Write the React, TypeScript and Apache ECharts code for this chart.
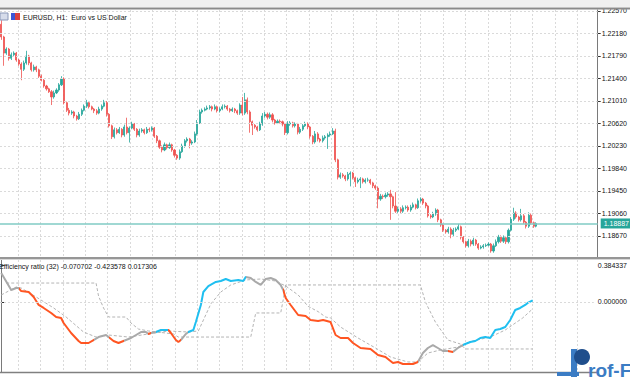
import React, { useEffect, useRef } from "react";
import * as echarts from "echarts";

// ---------- data ----------
const chartTitle = "EURUSD, H1:  Euro vs US Dollar";
const indicatorTitle = "Efficiency ratio (32) -0.070702 -0.423578 0.017306";

const firstOpen = 1.2234;
const closes = [
  1.2212, 1.2184, 1.2191, 1.2175, 1.2181, 1.2184, 1.2172, 1.2165, 1.2156, 1.2167,
  1.2179, 1.2167, 1.2155, 1.216, 1.2155, 1.2144, 1.2137, 1.2127, 1.2122, 1.2117,
  1.2108, 1.2115, 1.212, 1.2129, 1.2139, 1.2098, 1.2085, 1.208, 1.2082, 1.2075,
  1.207, 1.2078, 1.2085, 1.2092, 1.2098, 1.2091, 1.2087, 1.2084, 1.208, 1.2087,
  1.2092, 1.2098, 1.2078, 1.2058, 1.2039, 1.2051, 1.2046, 1.2052, 1.2042, 1.2056,
  1.2046, 1.2054, 1.2061, 1.2052, 1.2042, 1.2049, 1.2051, 1.2046, 1.2052, 1.2051,
  1.2054, 1.204, 1.2032, 1.2021, 1.2016, 1.2025, 1.202, 1.2025, 1.2016, 1.2007,
  1.2002, 1.2013, 1.2023, 1.2032, 1.2035, 1.2028, 1.203, 1.2044, 1.2063, 1.2082,
  1.2085, 1.2087, 1.2089, 1.2091, 1.2087, 1.2091, 1.2084, 1.2087, 1.2091, 1.2092,
  1.2087, 1.2084, 1.2087, 1.2084, 1.208, 1.2094, 1.208, 1.2103, 1.2082, 1.2065,
  1.2059, 1.2056, 1.2051, 1.2061, 1.2075, 1.2078, 1.2073, 1.2077, 1.2068, 1.2063,
  1.2066, 1.2065, 1.2061, 1.2046, 1.2061, 1.2063, 1.2058, 1.2061, 1.2047, 1.2052,
  1.2058, 1.2061, 1.2056, 1.204, 1.203, 1.2044, 1.2035, 1.2032, 1.2037, 1.2039,
  1.2042, 1.2044, 1.2049, 1.1999, 1.1969, 1.1973, 1.1971, 1.1966, 1.1974, 1.1976,
  1.1968, 1.1961, 1.1964, 1.1966, 1.1961, 1.1964, 1.1964, 1.1959, 1.1954, 1.195,
  1.1931, 1.1936, 1.1935, 1.1938, 1.194, 1.1935, 1.1919, 1.191, 1.1914, 1.191,
  1.1916, 1.1917, 1.1912, 1.1917, 1.1921, 1.1916, 1.1928, 1.1931, 1.1924, 1.1919,
  1.1902, 1.19, 1.1905, 1.1912, 1.1895, 1.1886, 1.1877, 1.1874, 1.1879, 1.187,
  1.1877, 1.1879, 1.1883, 1.1865, 1.1857, 1.185, 1.1858, 1.1853, 1.186, 1.1853,
  1.1846, 1.1848, 1.185, 1.1851, 1.1853, 1.1841, 1.185, 1.1857, 1.1865, 1.1858,
  1.1864, 1.1857, 1.1877, 1.1896, 1.1907, 1.19, 1.1895, 1.1902, 1.1891, 1.1884,
  1.1903, 1.189, 1.1884, 1.18887,
];
// wick lengths above / below the body, in pips
const wickUp = [
  7, 2, 3, 2, 4, 3, 2, 2, 3, 4, 9, 2, 2, 4, 2, 2, 3, 2, 2, 2,
  3, 4, 3, 3, 5, 3, 2, 4, 3, 2, 2, 4, 3, 3, 5, 3, 2, 2, 3, 4,
  3, 5, 3, 2, 2, 4, 3, 4, 2, 4, 16, 3, 4, 2, 2, 4, 3, 2, 4, 3,
  3, 2, 2, 2, 3, 4, 2, 4, 2, 2, 2, 4, 4, 3, 3, 2, 3, 4, 5, 4,
  3, 3, 4, 3, 2, 4, 2, 3, 4, 3, 2, 2, 3, 2, 2, 3, 14, 12, 4, 3,
  2, 2, 2, 4, 5, 4, 3, 4, 3, 2, 3, 3, 2, 2, 5, 3, 2, 3, 2, 4,
  3, 4, 3, 2, 2, 5, 3, 2, 4, 3, 3, 4, 5, 4, 2, 4, 3, 2, 4, 3,
  2, 2, 4, 3, 2, 3, 4, 2, 2, 2, 3, 4, 3, 4, 3, 7, 2, 24, 4, 3,
  4, 3, 3, 4, 4, 2, 4, 3, 2, 2, 2, 3, 4, 3, 2, 2, 2, 2, 4, 3,
  4, 3, 5, 2, 2, 2, 4, 3, 4, 2, 2, 3, 3, 3, 3, 2, 4, 4, 4, 3,
  4, 3, 3, 4, 9, 3, 2, 12, 3, 2, 5, 3, 2, 2,
];
const wickDn = [
  5, 22, 3, 4, 3, 2, 3, 3, 19, 3, 3, 4, 3, 3, 4, 3, 2, 3, 3, 2,
  14, 3, 2, 3, 2, 3, 3, 4, 3, 4, 3, 2, 3, 2, 3, 3, 2, 4, 3, 2,
  3, 2, 4, 3, 4, 3, 3, 2, 4, 3, 3, 17, 2, 3, 4, 3, 3, 3, 2, 4,
  3, 3, 4, 3, 4, 2, 3, 2, 3, 4, 3, 3, 2, 3, 3, 9, 3, 2, 3, 2,
  3, 2, 2, 3, 4, 2, 3, 3, 2, 3, 3, 3, 2, 4, 3, 3, 4, 3, 4, 19,
  17, 3, 3, 2, 3, 3, 4, 3, 4, 3, 2, 3, 4, 4, 3, 3, 3, 3, 4, 3,
  3, 2, 4, 4, 4, 3, 4, 3, 3, 3, 21, 3, 2, 4, 4, 3, 3, 4, 3, 21,
  3, 9, 3, 14, 3, 3, 3, 3, 4, 3, 16, 3, 4, 3, 3, 40, 4, 3, 3, 4,
  3, 3, 3, 3, 2, 3, 2, 3, 3, 4, 3, 3, 2, 3, 4, 3, 3, 3, 3, 7,
  3, 3, 2, 4, 3, 3, 3, 4, 3, 3, 3, 2, 3, 2, 2, 3, 3, 2, 3, 3,
  3, 4, 3, 2, 3, 3, 3, 3, 3, 4, 3, 3, 3, 2,
];
const priceTicks = [
  1.2257, 1.2218, 1.2179, 1.214, 1.2101, 1.2062, 1.2023, 1.1984, 1.1945, 1.1906, 1.1867,
];
const currentPrice = 1.18887;

// indicator pane: [bar index, value]
const erPoints = [
  [0, 0.301], [4, 0.125], [6, 0.145], [7, 0.145], [8, 0.114], [11, 0.104], [13, 0.052],
  [15, -0.031], [17, -0.062], [20, -0.114], [22, -0.156], [24, -0.166], [25, -0.218],
  [28, -0.322], [31, -0.405], [32, -0.426], [35, -0.426], [37, -0.395], [39, -0.364],
  [42, -0.343], [43, -0.364], [45, -0.405], [47, -0.426], [49, -0.405], [52, -0.374],
  [54, -0.343], [56, -0.312], [58, -0.312], [59, -0.332], [60, -0.322], [62, -0.312],
  [64, -0.291], [67, -0.291], [68, -0.322], [70, -0.395], [71, -0.416], [72, -0.395],
  [74, -0.332], [75, -0.312], [77, -0.291], [78, -0.208], [80, -0.031], [81, 0.104],
  [83, 0.166], [86, 0.208], [88, 0.218], [90, 0.239], [92, 0.218], [95, 0.229],
  [97, 0.218], [98, 0.26], [100, 0.249], [102, 0.208], [104, 0.177], [106, 0.239],
  [108, 0.249], [110, 0.229], [112, 0.177], [113, 0.125], [114, 0.042], [116, -0.031],
  [119, -0.135], [122, -0.145], [124, -0.187], [127, -0.197], [129, -0.187], [132, -0.208],
  [134, -0.343], [136, -0.374], [139, -0.374], [141, -0.426], [144, -0.478], [148, -0.488],
  [151, -0.551], [154, -0.571], [157, -0.634], [159, -0.623], [161, -0.644], [163, -0.644],
  [165, -0.644], [167, -0.623], [169, -0.53], [171, -0.478], [173, -0.447], [175, -0.478],
  [177, -0.509], [179, -0.509], [181, -0.52], [183, -0.478], [185, -0.447], [188, -0.416],
  [190, -0.405], [192, -0.374], [194, -0.364], [196, -0.374], [198, -0.291], [200, -0.281],
  [202, -0.26], [204, -0.187], [206, -0.083], [208, -0.062], [210, -0.031], [211, -0.01],
  [213, 0.017],
];
// colour of the efficiency-ratio line by bar range: [from, to, colour]
const erColorRanges = [
  [0, 7, "#a9a9a9"], [7, 37, "#ff5522"], [37, 43, "#a9a9a9"], [43, 49, "#ff5522"],
  [49, 59, "#a9a9a9"], [59, 60, "#ff5522"], [60, 62, "#a9a9a9"], [62, 67, "#1fbff0"],
  [67, 72, "#ff5522"], [72, 75, "#a9a9a9"], [75, 98, "#1fbff0"], [98, 113, "#a9a9a9"],
  [113, 167, "#ff5522"], [167, 179, "#a9a9a9"], [179, 181, "#ff5522"], [181, 185, "#a9a9a9"],
  [185, 214, "#1fbff0"],
];
const signalPoints = [
  [0, 0.073], [6, 0.156], [8, 0.145], [14, 0.052], [21, -0.062], [26, -0.156], [33, -0.312],
  [38, -0.364], [43, -0.343], [51, -0.364], [59, -0.332], [67, -0.301], [75, -0.312],
  [79, -0.301], [84, -0.02], [88, 0.104], [92, 0.177], [98, 0.229], [104, 0.239],
  [110, 0.218], [114, 0.166], [119, 0.073], [123, -0.045], [127, -0.1], [130, -0.156],
  [132, -0.166], [136, -0.26], [143, -0.374], [150, -0.478], [156, -0.571], [163, -0.623],
  [167, -0.623], [171, -0.53], [176, -0.499], [183, -0.468], [189, -0.405], [196, -0.364],
  [202, -0.291], [209, -0.166], [213, -0.071],
];
const levelPoints = [
  [2, 0.197], [38, 0.197], [39, 0.062], [41, -0.062], [43, -0.156], [50, -0.156],
  [52, -0.218], [55, -0.281], [59, -0.301], [69, -0.332], [71, -0.364], [100, -0.364],
  [101, -0.239], [102, -0.114], [112, -0.114], [113, 0.021], [114, 0.177], [168, 0.177],
  [170, 0.0], [174, -0.208], [179, -0.395], [184, -0.436], [186, -0.488], [213, -0.488],
];
const indicatorTicks = [0.384337, 0];

// ---------- layout ----------
const SLOTS = 238;
const W = 630;
const H = 380;
const PLOT_RIGHT = 598;
const MAIN_TOP = 10;
const MAIN_BOTTOM = 257;
const IND_TOP = 260;
const IND_BOTTOM = 372;
const FONT = "Liberation Sans";

export default function App() {
  const ref = useRef<HTMLDivElement>(null);

  useEffect(() => {
    if (!ref.current) return;
    const chart = echarts.init(ref.current, undefined, { renderer: "svg" });

    const categories = Array.from({ length: SLOTS }, (_, i) => String(i));
    const candles = closes.map((c, i) => {
      const o = i === 0 ? firstOpen : closes[i - 1];
      const lo = Math.min(o, c) - wickDn[i] * 0.0001;
      const hi = Math.max(o, c) + wickUp[i] * 0.0001;
      return [o, c, lo, hi];
    });

    const gridLine = { color: "#dadada", width: 1, type: [2, 2] as any };

    const vGrid: any[] = [];
    for (let k = 0; k < 26; k++) {
      const x = Math.round(18 + 22.36 * k) + 0.5;
      vGrid.push({
        type: "line",
        z: 0,
        silent: true,
        shape: { x1: x, y1: MAIN_TOP, x2: x, y2: MAIN_BOTTOM },
        style: { stroke: "#dadada", lineWidth: 1, lineDash: [2, 2] },
      });
      vGrid.push({
        type: "line",
        z: 0,
        silent: true,
        shape: { x1: x, y1: IND_TOP, x2: x, y2: IND_BOTTOM },
        style: { stroke: "#dadada", lineWidth: 1, lineDash: [2, 2] },
      });
    }

    const series: any[] = [
      {
        name: "grid",
        type: "line",
        xAxisIndex: 0,
        yAxisIndex: 0,
        data: [],
        silent: true,
        markLine: {
          silent: true,
          precision: 6,
          symbol: ["none", "none"],
          label: { show: false },
          lineStyle: gridLine,
          data: priceTicks.map((v) => ({ yAxis: v })),
        },
      },
      {
        name: "EURUSD",
        type: "candlestick",
        xAxisIndex: 0,
        yAxisIndex: 0,
        data: candles,
        barWidth: 1.6,
        itemStyle: {
          color: "#26a69a",
          color0: "#ef5350",
          borderColor: "#26a69a",
          borderColor0: "#ef5350",
          borderWidth: 0.8,
        },
      },
      {
        name: "price",
        type: "line",
        xAxisIndex: 0,
        yAxisIndex: 0,
        data: [],
        silent: true,
        z: 3,
        markLine: {
          silent: true,
          precision: 6,
          symbol: ["none", "none"],
          lineStyle: { color: "#80cbc4", width: 1.5, type: "solid" },
          label: {
            show: true,
            position: "end",
            formatter: () => currentPrice.toFixed(5),
            color: "#ffffff",
            backgroundColor: "#26a69a",
            fontSize: 7,
            fontFamily: FONT,
            padding: [2, 3, 1, 3],
            distance: 3,
          },
          data: [{ yAxis: currentPrice }],
        },
      },
      {
        name: "zero",
        type: "line",
        xAxisIndex: 1,
        yAxisIndex: 1,
        data: [],
        silent: true,
        markLine: {
          silent: true,
          precision: 6,
          symbol: ["none", "none"],
          label: { show: false },
          lineStyle: gridLine,
          data: [{ yAxis: 0 }],
        },
      },
      {
        name: "level",
        type: "line",
        xAxisIndex: 1,
        yAxisIndex: 1,
        data: levelPoints,
        showSymbol: false,
        silent: true,
        lineStyle: { color: "#b4b4b4", width: 1, type: [3, 2] },
      },
      {
        name: "signal",
        type: "line",
        xAxisIndex: 1,
        yAxisIndex: 1,
        data: signalPoints,
        showSymbol: false,
        silent: true,
        lineStyle: { color: "#b4b4b4", width: 1, type: [3, 2] },
      },
      {
        name: "ER",
        type: "line",
        xAxisIndex: 1,
        yAxisIndex: 1,
        data: erPoints,
        showSymbol: false,
        silent: true,
        lineStyle: { width: 2 },
      },
    ];
    const erIndex = series.findIndex((s) => s.name === "ER");

    const option: any = {
      animation: false,
      backgroundColor: "#ffffff",
      textStyle: { fontFamily: FONT },
      grid: [
        { left: 0, right: W - PLOT_RIGHT, top: MAIN_TOP, height: MAIN_BOTTOM - MAIN_TOP },
        { left: 0, right: W - PLOT_RIGHT, top: IND_TOP, height: IND_BOTTOM - IND_TOP },
      ],
      xAxis: [
        { type: "category", gridIndex: 0, data: categories, boundaryGap: true, show: false },
        { type: "value", gridIndex: 1, min: -0.5, max: SLOTS - 0.5, show: false },
      ],
      yAxis: [
        {
          type: "value",
          gridIndex: 0,
          position: "right",
          min: 1.18306,
          max: 1.22587,
          splitLine: { show: false },
          axisLine: { show: true, lineStyle: { color: "#7a7a7a", width: 1 } },
          axisTick: { show: true, length: 3, lineStyle: { color: "#333" }, customValues: priceTicks },
          axisLabel: {
            customValues: priceTicks,
            formatter: (v: number) => v.toFixed(5),
            fontSize: 7,
            color: "#111",
            margin: 4,
            fontFamily: FONT,
          },
        },
        {
          type: "value",
          gridIndex: 1,
          position: "right",
          min: -0.7272,
          max: 0.4363,
          splitLine: { show: false },
          axisLine: { show: true, lineStyle: { color: "#7a7a7a", width: 1 } },
          axisTick: { show: true, length: 3, lineStyle: { color: "#333" }, customValues: indicatorTicks },
          axisLabel: {
            customValues: indicatorTicks,
            formatter: (v: number) => v.toFixed(6),
            fontSize: 7,
            color: "#111",
            margin: 4,
            fontFamily: FONT,
          },
        },
      ],
      visualMap: {
        show: false,
        type: "piecewise",
        seriesIndex: erIndex,
        dimension: 0,
        pieces: erColorRanges.map(([a, b, c]) => ({ gte: a, lt: b, color: c })),
        outOfRange: { color: "#a9a9a9" },
      },
      series,
      graphic: [
        ...vGrid,
        // window chrome
        { type: "rect", z: 10, shape: { x: 0, y: 0, width: W, height: 7 }, style: { fill: "#f0f0f0" } },
        { type: "line", z: 10, shape: { x1: 0, y1: 8.5, x2: W, y2: 8.5 }, style: { stroke: "#8a8a8a", lineWidth: 2 } },
        { type: "rect", z: 10, shape: { x: 0, y: 257, width: W, height: 3 }, style: { fill: "#d8d8d8" } },
        { type: "line", z: 10, shape: { x1: 0, y1: 258, x2: W, y2: 258 }, style: { stroke: "#808080", lineWidth: 1.5 } },
        { type: "line", z: 10, shape: { x1: 0, y1: 372.5, x2: PLOT_RIGHT, y2: 372.5 }, style: { stroke: "#808080", lineWidth: 1.5 } },
        // symbol icons
        { type: "rect", z: 10, shape: { x: 0, y: 13, width: 8, height: 7 }, style: { fill: "#d6dcea", stroke: "#8a98b8", lineWidth: 1 } },
        { type: "rect", z: 10, shape: { x: 11, y: 13, width: 4, height: 7 }, style: { fill: "#3a56d8" } },
        { type: "rect", z: 10, shape: { x: 15, y: 13, width: 5, height: 7 }, style: { fill: "#d94040" } },
        {
          type: "text",
          z: 10,
          x: 23,
          y: 17,
          style: { text: chartTitle, fontSize: 7, fontFamily: FONT, fill: "#111", verticalAlign: "middle", align: "left" },
        },
        {
          type: "text",
          z: 10,
          x: -1,
          y: 266,
          style: { text: indicatorTitle, fontSize: 7, fontFamily: FONT, fill: "#111", verticalAlign: "middle", align: "left" },
        },
        // watermark logo
        { type: "rect", z: 20, shape: { x: 571, y: 349, width: 6, height: 28 }, style: { fill: "#3b7cc4" } },
        { type: "circle", z: 20, shape: { cx: 582, cy: 357, r: 8 }, style: { fill: "#1f4e8c" } },
        { type: "rect", z: 20, shape: { x: 557, y: 372, width: 22, height: 4 }, style: { fill: "#3b7cc4" } },
        {
          type: "text",
          z: 20,
          x: 588,
          y: 380,
          style: { text: "rof-F", fontSize: 19, fontWeight: "bold", fontFamily: FONT, fill: "#3b7cc4", verticalAlign: "bottom", align: "left" },
        },
      ],
    };

    chart.setOption(option);
    return () => chart.dispose();
  }, []);

  return (
    <div style={{ position: "fixed", left: 0, top: 0, width: W, height: H, background: "#fff" }}>
      <div ref={ref} style={{ width: W, height: H }} />
    </div>
  );
}
